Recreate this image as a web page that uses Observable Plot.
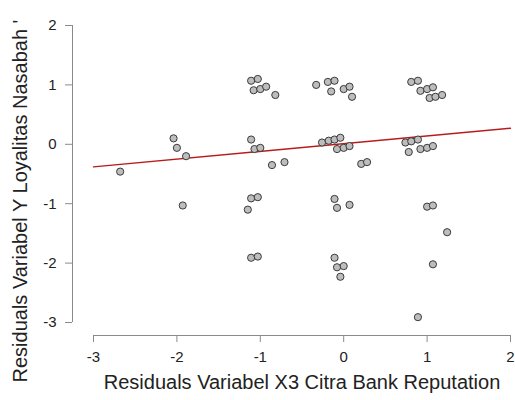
<!DOCTYPE html>
<html>
<head>
<meta charset="utf-8">
<script src="https://cdn.jsdelivr.net/npm/d3@7"></script>
<script src="https://cdn.jsdelivr.net/npm/@observablehq/plot@0.6"></script>
<style>
  html, body { margin: 0; padding: 0; background: white; }
</style>
</head>
<body>
<div id="chart"></div>
<script>
const xTicks = [-3, -2, -1, 0, 1, 2];
const yTicks = [-3, -2, -1, 0, 1, 2];
const xTitle = "Residuals Variabel X3 Citra Bank Reputation";
const yTitle = "Residuals Variabel Y Loyalitas Nasabah '";

const resX = [
  -2.04, -2.00, -1.89, -2.68, -1.93,
  -1.11, -1.03, -1.08, -1.00, -0.93, -0.82,
  -0.33, -0.19, -0.11, -0.15, 0.00, 0.07, 0.10,
  -1.11, -1.07, -1.00, -0.86, -0.71,
  -0.26, -0.18, -0.11, -0.04, -0.08, 0.00, 0.07, 0.21, 0.28,
  -1.11, -1.03, -1.15, -0.11, -0.08, 0.07,
  0.81, 0.89, 0.92, 1.00, 1.07, 1.03, 1.10, 1.18,
  0.74, 0.81, 0.89, 0.78, 0.92, 1.00, 1.07,
  1.00, 1.07,
  -1.11, -1.03, -0.11, -0.08, 0.00, -0.04,
  1.24, 1.07, 0.89
];
const resY = [
  0.10, -0.06, -0.20, -0.46, -1.03,
  1.07, 1.10, 0.91, 0.93, 0.97, 0.83,
  1.00, 1.05, 1.07, 0.89, 0.93, 0.97, 0.80,
  0.08, -0.08, -0.06, -0.35, -0.30,
  0.03, 0.06, 0.08, 0.11, -0.08, -0.06, -0.03, -0.33, -0.30,
  -0.91, -0.89, -1.10, -0.92, -1.07, -1.02,
  1.05, 1.07, 0.90, 0.93, 0.96, 0.78, 0.80, 0.83,
  0.03, 0.05, 0.08, -0.13, -0.08, -0.06, -0.03,
  -1.05, -1.03,
  -1.91, -1.89, -1.91, -2.07, -2.05, -2.23,
  -1.48, -2.02, -2.91
];
const fitX = [-3, 2];
const fitY = [-0.38, 0.27];

const points = resX.map((x, i) => ({x, y: resY[i]}));
const fit = fitX.map((x, i) => ({x, y: fitY[i]}));

const font = "'Liberation Sans', Arial, sans-serif";
const axisGray = "#8a8a8a";
const textCol = "#222";
const fmt = d => String(d);

const chart = Plot.plot({
  width: 515,
  height: 400,
  marginLeft: 93,
  marginRight: 5,
  marginTop: 25,
  marginBottom: 78,
  style: {fontFamily: font, background: "white", color: textCol, overflow: "visible"},
  x: {domain: [xTicks[0], xTicks[xTicks.length - 1]]},
  y: {domain: [yTicks[0], yTicks[yTicks.length - 1]]},
  marks: [
    Plot.ruleY([yTicks[0]], {x1: xTicks[0], x2: xTicks[xTicks.length - 1], dy: 13, stroke: axisGray}),
    Plot.ruleX([xTicks[0]], {y1: yTicks[0], y2: yTicks[yTicks.length - 1], dx: -21, stroke: axisGray}),
    Plot.axisX(xTicks, {anchor: "bottom", dy: 13, tickSize: 7, tickPadding: 9, fontSize: 15, stroke: axisGray, fill: textCol, label: null, tickFormat: fmt}),
    Plot.axisY(yTicks, {anchor: "left", dx: -21, tickSize: 7, tickPadding: 9, fontSize: 15, stroke: axisGray, fill: textCol, label: null, tickFormat: fmt}),
    Plot.line(fit, {x: "x", y: "y", stroke: "#b71c1c", strokeWidth: 1.4}),
    Plot.dot(points, {x: "x", y: "y", r: 3.6, fill: "#bdbdbd", stroke: "#3a3a3a", strokeWidth: 1}),
    Plot.text([xTitle], {text: d => d, frameAnchor: "bottom", dy: 66, fontSize: 20, fill: textCol, textAnchor: "middle"}),
    Plot.text([yTitle], {text: d => d, frameAnchor: "bottom-left", dx: -66.5, dy: 60, rotate: -90, fontSize: 20, fill: textCol, textAnchor: "start"})
  ]
});
document.getElementById("chart").appendChild(chart);
</script>
</body>
</html>
